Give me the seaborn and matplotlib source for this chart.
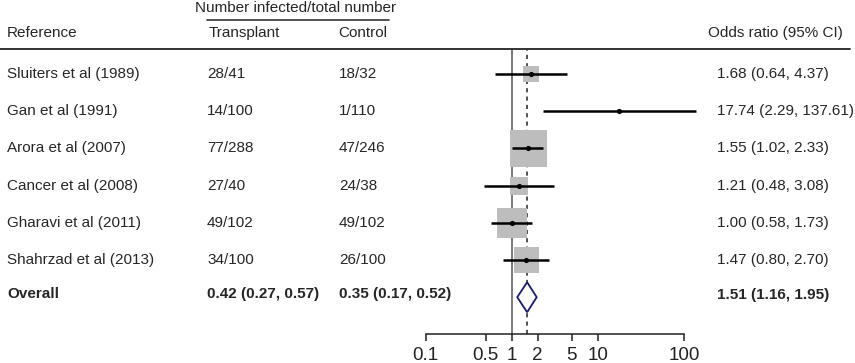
import numpy as np
import pandas as pd
import matplotlib.pyplot as plt
import seaborn as sns
from matplotlib.lines import Line2D
from matplotlib.ticker import NullLocator
from matplotlib.transforms import blended_transform_factory

# study level data
studies = ["Sluiters et al (1989)", "Gan et al (1991)", "Arora et al (2007)",
           "Cancer et al (2008)", "Gharavi et al (2011)", "Shahrzad et al (2013)"]
transplant = ["28/41", "14/100", "77/288", "27/40", "49/102", "34/100"]
control = ["18/32", "1/110", "47/246", "24/38", "49/102", "26/100"]
odds = [1.68, 17.74, 1.55, 1.21, 1.00, 1.47]
ci_low = [0.64, 2.29, 1.02, 0.48, 0.58, 0.80]
ci_high = [4.37, 137.61, 2.33, 3.08, 1.73, 2.70]
weights = [7.4, 0.4, 39.2, 9.3, 25.8, 17.9]

# pooled estimate
overall_label = "Overall"
overall_transplant = "0.42 (0.27, 0.57)"
overall_control = "0.35 (0.17, 0.52)"
overall_or, overall_low, overall_high = 1.51, 1.16, 1.95

ticks = [0.1, 0.5, 1, 2, 5, 10, 100]
tick_labels = ["0.1", "0.5", "1", "2", "5", "10", "100"]

sns.set_style("white")
plt.rcParams["font.family"] = ["Liberation Sans", "DejaVu Sans"]

W, H = 855, 363
fig = plt.figure(figsize=(W / 100, H / 100), dpi=100)


def fx(px):
    return px / W


def fy(py):
    return 1 - py / H


# forest panel geometry (pixels)
x_01, decade = 425.5, 86.2
x_right = x_01 + decade * np.log10(200 / 0.1)
row0, row_step = 74, 37.2
top_px, bottom_px = 48, 334

ax = fig.add_axes([fx(x_01), fy(bottom_px), (x_right - x_01) / W, (bottom_px - top_px) / H])
ax.set_facecolor("none")

df = pd.DataFrame({"study": studies, "odds": odds, "low": ci_low, "high": ci_high,
                   "weight": weights})
df["row"] = np.arange(len(df))
n = len(df)

# box side in px proportional to sqrt(weight), converted to points^2
side_px = 5.91 * np.sqrt(df["weight"].values)
box_s = (side_px * 0.72) ** 2

ax.axvline(1, color="#555555", lw=1.1, zorder=1)
ax.axvline(overall_or, color="#333333", lw=1.2, ls=(0, (2.5, 2.5)), zorder=1)

sns.scatterplot(data=df, x="odds", y="row", marker="s", s=box_s, color="#bdbdbd",
                linewidth=0, ax=ax, legend=False, zorder=2)
ax.hlines(df["row"], df["low"], df["high"], color="black", lw=1.8, zorder=3)
sns.scatterplot(data=df, x="odds", y="row", s=14, color="black", linewidth=0,
                ax=ax, legend=False, zorder=4)

h = 15 / row_step
ax.fill([overall_low, overall_or, overall_high, overall_or], [n, n - h, n, n + h],
        facecolor="white", edgecolor="#1b1b6b", lw=1.3, zorder=3)

ax.set_xscale("log")
ax.set_xlim(0.1, 200)
ax.set_ylim((bottom_px - row0) / row_step, (top_px - row0) / row_step)
ax.set_xticks(ticks)
ax.set_xticklabels(tick_labels)
ax.xaxis.set_minor_locator(NullLocator())
ax.set_yticks([])
ax.set_xlabel("")
ax.set_ylabel("")
for side in ["left", "top", "right"]:
    ax.spines[side].set_visible(False)
ax.spines["bottom"].set_bounds(0.1, 100)
ax.spines["bottom"].set_color("#222222")
ax.spines["bottom"].set_linewidth(1.1)
ax.tick_params(axis="x", direction="out", length=5, width=1.1, colors="#222222",
               labelsize=13.5, pad=4, bottom=True)

# table text
trans = blended_transform_factory(fig.transFigure, ax.transData)
fs = 11
for i in range(n):
    ax.text(fx(7), i, studies[i], transform=trans, va="center", fontsize=fs)
    ax.text(fx(207), i, transplant[i], transform=trans, va="center", fontsize=fs)
    ax.text(fx(339), i, control[i], transform=trans, va="center", fontsize=fs)
    ax.text(fx(716.5), i, f"{odds[i]:.2f} ({ci_low[i]:.2f}, {ci_high[i]:.2f})",
            transform=trans, va="center", fontsize=fs)

ax.text(fx(7), n - 0.08, overall_label, transform=trans, va="center", fontsize=fs, weight="bold")
ax.text(fx(207), n - 0.08, overall_transplant, transform=trans, va="center", fontsize=fs, weight="bold")
ax.text(fx(339), n - 0.08, overall_control, transform=trans, va="center", fontsize=fs, weight="bold")
ax.text(fx(716.5), n - 0.05, f"{overall_or:.2f} ({overall_low:.2f}, {overall_high:.2f})",
        transform=trans, va="center", fontsize=fs, weight="bold")

# header
fig.text(fx(296), fy(8.5), "Number infected/total number", ha="center", va="center", fontsize=fs)
fig.text(fx(7), fy(33), "Reference", va="center", fontsize=fs)
fig.text(fx(209), fy(33), "Transplant", va="center", fontsize=fs)
fig.text(fx(338), fy(33), "Control", va="center", fontsize=fs)
fig.text(fx(843), fy(33), "Odds ratio (95% CI)", ha="right", va="center", fontsize=fs)
fig.add_artist(Line2D([fx(207), fx(389)], [fy(19.5)] * 2, color="#333333", lw=1.2))
fig.add_artist(Line2D([fx(0), fx(850)], [fy(48.5)] * 2, color="#333333", lw=1.4))

fig.savefig("out.png", dpi=100)
